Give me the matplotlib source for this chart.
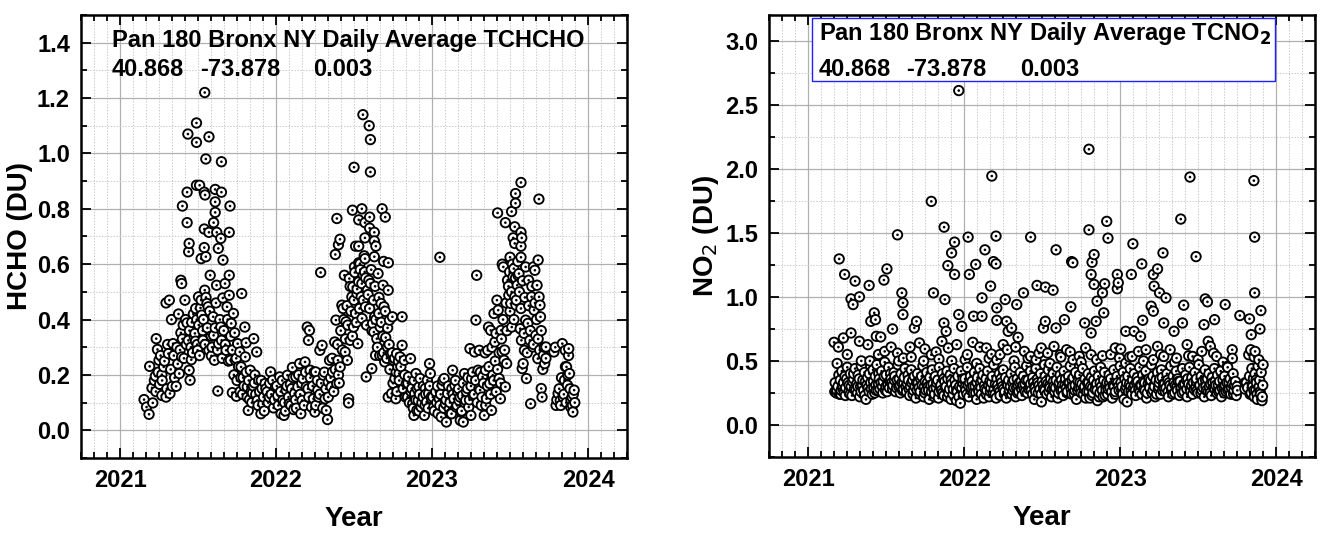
#Pandora 180 Bronx NY daily average columns: HCHO and NO2
import numpy as np
import matplotlib.pyplot as plt
from matplotlib.patches import Rectangle
from matplotlib.ticker import MultipleLocator, FormatStrFormatter

plt.rcParams['font.family'] = ['Liberation Sans', 'DejaVu Sans']

#HCHO (DU), decimal year
hcho_2021_t = [2021.154, 2021.17, 2021.186, 2021.19, 2021.21, 2021.205, 2021.232, 2021.24, 2021.25, 2021.227,
               2021.254, 2021.268, 2021.28, 2021.295, 2021.268, 2021.295, 2021.316, 2021.32, 2021.33, 2021.335,
               2021.31, 2021.34, 2021.36, 2021.375, 2021.39, 2021.395, 2021.38, 2021.39, 2021.395, 2021.416,
               2021.43, 2021.438, 2021.449, 2021.443, 2021.457, 2021.47, 2021.476, 2021.484, 2021.497, 2021.492,
               2021.503, 2021.516, 2021.524, 2021.532, 2021.543, 2021.551, 2021.557, 2021.565, 2021.57, 2021.578,
               2021.586, 2021.6, 2021.597, 2021.605, 2021.627, 2021.619, 2021.632, 2021.646, 2021.651, 2021.659,
               2021.673, 2021.68, 2021.686, 2021.7, 2021.7, 2021.708, 2021.713, 2021.727, 2021.735, 2021.74,
               2021.72, 2021.746, 2021.754, 2021.768, 2021.78, 2021.776, 2021.789, 2021.8, 2021.803, 2021.808,
               2021.816, 2021.822, 2021.83, 2021.835, 2021.849, 2021.857, 2021.862, 2021.876, 2021.88, 2021.889,
               2021.903, 2021.91, 2021.916, 2021.93, 2021.943, 2021.957, 2021.965, 2021.978, 2021.984, 2021.997,
               2021.543, 2021.49, 2021.435, 2021.49, 2021.57, 2021.55, 2021.65, 2021.43, 2021.49, 2021.51,
               2021.54, 2021.545, 2021.61, 2021.65, 2021.61, 2021.40, 2021.705, 2021.61, 2021.43, 2021.60,
               2021.54, 2021.57, 2021.62, 2021.70, 2021.646, 2021.443, 2021.44, 2021.54, 2021.63, 2021.52,
               2021.55, 2021.66,
               2021.22, 2021.23, 2021.245, 2021.26, 2021.27, 2021.285, 2021.30, 2021.305, 2021.325, 2021.345,
               2021.35, 2021.365, 2021.37, 2021.385, 2021.40, 2021.405, 2021.41, 2021.42, 2021.425, 2021.445,
               2021.455, 2021.46, 2021.465, 2021.48, 2021.485, 2021.495, 2021.505, 2021.51, 2021.52, 2021.53,
               2021.535, 2021.545, 2021.56, 2021.575, 2021.585, 2021.59, 2021.61, 2021.615, 2021.625, 2021.64,
               2021.655, 2021.665, 2021.675, 2021.69, 2021.695, 2021.71, 2021.72, 2021.73, 2021.745, 2021.75,
               2021.76, 2021.77, 2021.775, 2021.785, 2021.795, 2021.81, 2021.815, 2021.825, 2021.84, 2021.845,
               2021.855, 2021.865, 2021.87, 2021.885, 2021.895, 2021.905, 2021.92, 2021.925, 2021.935, 2021.95,
               2021.96, 2021.97, 2021.99]
hcho_2021_v = [0.111, 0.084, 0.058, 0.231, 0.099, 0.153, 0.331, 0.292, 0.253, 0.196,
               0.166, 0.126, 0.229, 0.12, 0.201, 0.46, 0.47, 0.133, 0.40, 0.159,
               0.277, 0.313, 0.159, 0.42, 0.352, 0.265, 0.205, 0.542, 0.53, 0.47,
               0.388, 0.325, 0.181, 0.217, 0.255, 0.42, 0.337, 0.322, 0.289, 0.40,
               0.482, 0.442, 0.416, 0.325, 0.506, 0.48, 0.458, 0.446, 0.289, 0.56,
               0.269, 0.343, 0.41, 0.253, 0.142, 0.524, 0.313, 0.373, 0.325, 0.478,
               0.53, 0.289, 0.446, 0.56, 0.488, 0.253, 0.386, 0.422, 0.352, 0.253,
               0.136, 0.123, 0.313, 0.283, 0.494, 0.229, 0.19, 0.373, 0.265, 0.316,
               0.157, 0.072, 0.111, 0.217, 0.135, 0.331, 0.171, 0.283, 0.108, 0.181,
               0.06, 0.151, 0.096, 0.169, 0.139, 0.12, 0.211, 0.181, 0.081, 0.157,
               1.22, 1.11, 1.07, 1.04, 1.06, 0.98, 0.97, 0.86, 0.885, 0.885,
               0.86, 0.85, 0.87, 0.86, 0.825, 0.81, 0.81, 0.787, 0.75, 0.75,
               0.727, 0.715, 0.715, 0.715, 0.693, 0.675, 0.645, 0.66, 0.657, 0.62,
               0.627, 0.615,
               0.18, 0.14, 0.21, 0.27, 0.18, 0.25, 0.15, 0.31, 0.22, 0.27,
               0.19, 0.30, 0.24, 0.29, 0.33, 0.38, 0.26, 0.40, 0.31, 0.36,
               0.30, 0.39, 0.28, 0.35, 0.44, 0.31, 0.38, 0.27, 0.47, 0.36,
               0.40, 0.31, 0.37, 0.43, 0.34, 0.30, 0.37, 0.46, 0.29, 0.40,
               0.26, 0.36, 0.31, 0.40, 0.25, 0.34, 0.29, 0.20, 0.26, 0.18,
               0.23, 0.14, 0.19, 0.13, 0.16, 0.21, 0.12, 0.18, 0.14, 0.10,
               0.16, 0.20, 0.13, 0.09, 0.14, 0.18, 0.12, 0.07, 0.15, 0.10,
               0.17, 0.13, 0.11]

hcho_2022_t = [2022.011, 2022.024, 2022.032, 2022.043, 2022.051, 2022.065, 2022.073, 2022.086, 2022.092, 2022.105,
               2022.113, 2022.119, 2022.127, 2022.14, 2022.151, 2022.159, 2022.167, 2022.173, 2022.186, 2022.194,
               2022.2, 2022.208, 2022.214, 2022.219, 2022.227, 2022.24, 2022.249, 2022.254, 2022.268, 2022.273,
               2022.281, 2022.286, 2022.295, 2022.303, 2022.314, 2022.322, 2022.33, 2022.335, 2022.343, 2022.354,
               2022.362, 2022.376, 2022.389, 2022.397, 2022.405,
               2022.384, 2022.411, 2022.422, 2022.43, 2022.438, 2022.443, 2022.449, 2022.457, 2022.465, 2022.465,
               2022.47, 2022.476, 2022.486, 2022.492, 2022.497, 2022.503, 2022.51, 2022.519, 2022.524, 2022.53,
               2022.538, 2022.546, 2022.551, 2022.559, 2022.568, 2022.573, 2022.578, 2022.586, 2022.595, 2022.605,
               2022.614, 2022.619, 2022.627, 2022.632, 2022.638, 2022.646, 2022.654, 2022.659, 2022.668, 2022.673,
               2022.681, 2022.686, 2022.692, 2022.697, 2022.703, 2022.714, 2022.719, 2022.719, 2022.727, 2022.735,
               2022.741, 2022.746, 2022.754, 2022.762, 2022.768, 2022.773, 2022.781, 2022.789, 2022.795, 2022.808,
               2022.808, 2022.822, 2022.835, 2022.843, 2022.849, 2022.862, 2022.87, 2022.876, 2022.884, 2022.889,
               2022.897, 2022.903, 2022.911, 2022.916, 2022.924, 2022.93, 2022.943, 2022.951, 2022.957, 2022.965,
               2022.97, 2022.978, 2022.984, 2022.989, 2022.997,
               2022.557, 2022.597, 2022.605, 2022.50, 2022.605, 2022.39, 2022.49, 2022.55, 2022.68, 2022.70,
               2022.60, 2022.53, 2022.57, 2022.60, 2022.63, 2022.41, 2022.57, 2022.63, 2022.51, 2022.53,
               2022.64, 2022.38, 2022.40, 2022.57, 2022.63, 2022.69, 2022.72, 2022.53,
               2022.005, 2022.015, 2022.03, 2022.04, 2022.055, 2022.06, 2022.07, 2022.08, 2022.095, 2022.10,
               2022.11, 2022.125, 2022.13, 2022.145, 2022.155, 2022.165, 2022.18, 2022.19, 2022.205, 2022.21,
               2022.22, 2022.235, 2022.245, 2022.255, 2022.265, 2022.28, 2022.29, 2022.30, 2022.31, 2022.32,
               2022.335, 2022.35, 2022.36, 2022.37, 2022.38, 2022.395, 2022.40, 2022.415, 2022.425, 2022.435,
               2022.445, 2022.455, 2022.46, 2022.475, 2022.48, 2022.49, 2022.50, 2022.505, 2022.515, 2022.52,
               2022.535, 2022.54, 2022.55, 2022.56, 2022.565, 2022.575, 2022.58, 2022.59, 2022.60, 2022.61,
               2022.615, 2022.625, 2022.635, 2022.64, 2022.65, 2022.66, 2022.665, 2022.675, 2022.685, 2022.69,
               2022.70, 2022.71, 2022.715, 2022.725, 2022.73, 2022.745, 2022.75, 2022.76, 2022.77, 2022.775,
               2022.785, 2022.79, 2022.80, 2022.815, 2022.825, 2022.83, 2022.845, 2022.855, 2022.865, 2022.88,
               2022.885, 2022.895, 2022.905, 2022.915, 2022.92, 2022.935, 2022.945, 2022.955, 2022.96, 2022.975,
               2022.985, 2022.995]
hcho_2022_v = [0.126, 0.193, 0.06, 0.108, 0.054, 0.145, 0.199, 0.096, 0.166, 0.227,
               0.075, 0.133, 0.193, 0.157, 0.241, 0.06, 0.108, 0.187, 0.247, 0.157,
               0.373, 0.325, 0.361, 0.217, 0.084, 0.114, 0.066, 0.211, 0.145, 0.12,
               0.289, 0.57, 0.307, 0.199, 0.114, 0.072, 0.039, 0.175, 0.253, 0.157,
               0.211, 0.319, 0.169, 0.253, 0.171,
               0.398, 0.229, 0.452, 0.44, 0.56, 0.283, 0.392, 0.253, 0.114, 0.099,
               0.548, 0.325, 0.482, 0.518, 0.373, 0.59, 0.422, 0.494, 0.313, 0.536,
               0.602, 0.482, 0.404, 0.56, 0.572, 0.446, 0.193, 0.506, 0.542, 0.53,
               0.223, 0.386, 0.355, 0.41, 0.271, 0.331, 0.566, 0.422, 0.373, 0.458,
               0.271, 0.524, 0.446, 0.247, 0.335, 0.301, 0.506, 0.12, 0.398, 0.277,
               0.133, 0.41, 0.253, 0.187, 0.114, 0.277, 0.229, 0.205, 0.265, 0.41,
               0.307, 0.253, 0.169, 0.12, 0.193, 0.259, 0.151, 0.096, 0.054, 0.133,
               0.205, 0.072, 0.108, 0.157, 0.187, 0.084, 0.12, 0.054, 0.151, 0.102,
               0.181, 0.133, 0.241, 0.205, 0.114,
               1.14, 1.10, 1.05, 0.95, 0.933, 0.765, 0.795, 0.80, 0.80, 0.77,
               0.77, 0.76, 0.75, 0.73, 0.715, 0.69, 0.695, 0.684, 0.665, 0.665,
               0.665, 0.635, 0.67, 0.62, 0.627, 0.61, 0.605, 0.605,
               0.16, 0.09, 0.14, 0.18, 0.10, 0.07, 0.16, 0.12, 0.09, 0.15,
               0.19, 0.11, 0.08, 0.20, 0.13, 0.17, 0.09, 0.21, 0.15, 0.12,
               0.19, 0.16, 0.21, 0.09, 0.18, 0.13, 0.17, 0.08, 0.21, 0.15,
               0.12, 0.19, 0.26, 0.14, 0.22, 0.31, 0.20, 0.36, 0.29, 0.40,
               0.33, 0.45, 0.38, 0.52, 0.43, 0.34, 0.47, 0.57, 0.39, 0.51,
               0.44, 0.58, 0.53, 0.47, 0.63, 0.55, 0.38, 0.49, 0.44, 0.58,
               0.36, 0.47, 0.52, 0.40, 0.30, 0.48, 0.27, 0.39, 0.34, 0.28,
               0.43, 0.26, 0.37, 0.31, 0.22, 0.28, 0.17, 0.26, 0.21, 0.14,
               0.25, 0.18, 0.23, 0.15, 0.20, 0.12, 0.17, 0.10, 0.14, 0.08,
               0.18, 0.11, 0.15, 0.07, 0.13, 0.10, 0.16, 0.09, 0.13, 0.08,
               0.16, 0.12]

hcho_2023_t = [2023.011, 2023.024, 2023.038, 2023.046, 2023.059, 2023.065, 2023.078, 2023.086, 2023.092, 2023.1,
               2023.111, 2023.119, 2023.127, 2023.132, 2023.14, 2023.146, 2023.154, 2023.165, 2023.173, 2023.181,
               2023.186, 2023.195, 2023.2, 2023.208, 2023.216, 2023.227, 2023.235, 2023.243, 2023.249, 2023.254,
               2023.262, 2023.273, 2023.281, 2023.286, 2023.295, 2023.303, 2023.308, 2023.316, 2023.324, 2023.335,
               2023.343, 2023.349, 2023.357, 2023.362, 2023.37, 2023.376, 2023.381, 2023.389, 2023.397, 2023.403,
               2023.411, 2023.416, 2023.424, 2023.43, 2023.438, 2023.443, 2023.449, 2023.457, 2023.462, 2023.47,
               2023.478, 2023.484, 2023.492, 2023.497, 2023.505, 2023.511, 2023.519, 2023.524, 2023.53, 2023.538,
               2023.546, 2023.551, 2023.557, 2023.565, 2023.573, 2023.578, 2023.584, 2023.592, 2023.6, 2023.605,
               2023.614, 2023.619, 2023.627, 2023.632, 2023.638, 2023.646, 2023.654, 2023.659, 2023.665, 2023.673,
               2023.678, 2023.686, 2023.692, 2023.695, 2023.7, 2023.705, 2023.714, 2023.722, 2023.73, 2023.781,
               2023.795, 2023.808, 2023.822, 2023.835, 2023.84, 2023.849, 2023.854, 2023.862, 2023.868, 2023.876,
               2023.881, 2023.889, 2023.897, 2023.903, 2023.911,
               2023.05, 2023.57, 2023.535, 2023.535, 2023.685, 2023.42, 2023.51, 2023.47, 2023.53, 2023.57,
               2023.52, 2023.575, 2023.53, 2023.57, 2023.50, 2023.57, 2023.68, 2023.45, 2023.60, 2023.65,
               2023.005, 2023.015, 2023.03, 2023.035, 2023.05, 2023.055, 2023.07, 2023.075, 2023.09, 2023.105,
               2023.115, 2023.125, 2023.135, 2023.15, 2023.16, 2023.17, 2023.18, 2023.19, 2023.20, 2023.21,
               2023.22, 2023.23, 2023.24, 2023.25, 2023.26, 2023.27, 2023.28, 2023.29, 2023.30, 2023.31,
               2023.32, 2023.33, 2023.34, 2023.345, 2023.355, 2023.365, 2023.375, 2023.385, 2023.395, 2023.405,
               2023.41, 2023.42, 2023.43, 2023.44, 2023.445, 2023.455, 2023.465, 2023.475, 2023.48, 2023.49,
               2023.50, 2023.51, 2023.515, 2023.525, 2023.535, 2023.54, 2023.55, 2023.56, 2023.57, 2023.58,
               2023.59, 2023.595, 2023.61, 2023.62, 2023.63, 2023.64, 2023.65, 2023.66, 2023.67, 2023.68,
               2023.69, 2023.70, 2023.71, 2023.72, 2023.73, 2023.79, 2023.80, 2023.815, 2023.825, 2023.83,
               2023.845, 2023.855, 2023.86, 2023.87, 2023.875, 2023.885, 2023.89, 2023.90, 2023.905, 2023.915]
hcho_2023_v = [0.084, 0.139, 0.06, 0.114, 0.048, 0.163, 0.187, 0.096, 0.03, 0.133,
               0.078, 0.06, 0.151, 0.217, 0.114, 0.163, 0.084, 0.139, 0.108, 0.036,
               0.066, 0.126, 0.03, 0.205, 0.108, 0.151, 0.084, 0.295, 0.054, 0.187,
               0.126, 0.283, 0.398, 0.56, 0.217, 0.289, 0.145, 0.09, 0.193, 0.054,
               0.217, 0.114, 0.289, 0.373, 0.169, 0.361, 0.072, 0.199, 0.422, 0.319,
               0.139, 0.47, 0.434, 0.187, 0.114, 0.361, 0.283, 0.59, 0.253, 0.157,
               0.241, 0.542, 0.488, 0.572, 0.458, 0.373, 0.554, 0.584, 0.482, 0.452,
               0.524, 0.56, 0.566, 0.367, 0.325, 0.223, 0.241, 0.289, 0.398, 0.187,
               0.386, 0.542, 0.325, 0.096, 0.482, 0.301, 0.434, 0.578, 0.343, 0.524,
               0.259, 0.482, 0.452, 0.41, 0.151, 0.12, 0.271, 0.241, 0.301, 0.283,
               0.09, 0.133, 0.108, 0.313, 0.12, 0.181, 0.289, 0.229, 0.163, 0.295,
               0.205, 0.084, 0.12, 0.066, 0.145,
               0.625, 0.895, 0.855, 0.82, 0.835, 0.785, 0.79, 0.75, 0.735, 0.715,
               0.695, 0.695, 0.675, 0.665, 0.625, 0.625, 0.615, 0.60, 0.59, 0.59,
               0.12, 0.07, 0.10, 0.16, 0.09, 0.13, 0.18, 0.08, 0.11, 0.16,
               0.10, 0.06, 0.13, 0.18, 0.09, 0.15, 0.12, 0.07, 0.17, 0.10,
               0.14, 0.19, 0.11, 0.16, 0.21, 0.13, 0.18, 0.10, 0.15, 0.21,
               0.12, 0.17, 0.28, 0.09, 0.16, 0.23, 0.13, 0.30, 0.18, 0.25,
               0.35, 0.22, 0.28, 0.17, 0.33, 0.40, 0.29, 0.46, 0.36, 0.52,
               0.43, 0.50, 0.60, 0.40, 0.55, 0.47, 0.61, 0.50, 0.44, 0.54,
               0.35, 0.48, 0.28, 0.45, 0.36, 0.52, 0.31, 0.46, 0.40, 0.33,
               0.29, 0.36, 0.22, 0.30, 0.26, 0.30, 0.11, 0.15, 0.09, 0.19,
               0.13, 0.23, 0.10, 0.20, 0.27, 0.15, 0.11, 0.09, 0.13, 0.10]

#NO2 (DU), decimal year
no2_high_t = [2021.965, 2022.80, 2022.177, 2023.448, 2023.858, 2021.789, 2023.389, 2022.914, 2021.871, 2022.80,
              2021.572, 2022.204, 2022.025, 2022.426, 2022.922, 2023.863, 2021.938, 2023.082, 2022.589, 2022.133,
              2021.919, 2023.275, 2022.833, 2023.487, 2021.198, 2022.689, 2022.188, 2022.204, 2021.895, 2022.82,
              2023.139, 2021.504, 2023.24,
              2021.233, 2021.30, 2021.485, 2021.39, 2021.274, 2021.287, 2021.328, 2021.60, 2021.607, 2021.607,
              2021.938, 2021.803, 2021.876, 2022.033, 2022.074, 2022.169, 2022.114, 2022.209, 2022.263, 2022.337,
              2022.38, 2022.467, 2022.521, 2022.57, 2022.684, 2022.697, 2022.814, 2022.833, 2022.901, 2022.852,
              2022.887, 2022.895, 2022.982, 2022.988, 2022.982, 2023.072, 2023.213, 2023.218, 2023.253, 2023.294,
              2023.199, 2023.213, 2023.408, 2023.546, 2023.56, 2023.674, 2023.768, 2023.83, 2023.863, 2023.903,
              2023.897]
no2_high_v = [2.61, 2.152, 1.943, 1.935, 1.907, 1.745, 1.607, 1.589, 1.544, 1.523,
              1.484, 1.474, 1.466, 1.466, 1.458, 1.466, 1.427, 1.414, 1.367, 1.367,
              1.343, 1.343, 1.33, 1.314, 1.296, 1.275, 1.275, 1.257, 1.244, 1.27,
              1.257, 1.218, 1.218,
              1.175, 1.123, 1.131, 1.089, 0.984, 0.94, 1.0, 1.031, 0.953, 0.862,
              1.175, 1.031, 0.979, 1.175, 1.253, 1.084, 0.992, 0.914, 0.979, 0.94,
              1.031, 1.089, 1.076, 1.052, 0.922, 1.266, 1.175, 1.097, 1.102, 0.966,
              1.031, 0.875, 1.175, 1.11, 1.063, 1.175, 1.175, 1.084, 1.031, 0.992,
              0.927, 0.888, 0.935, 0.984, 0.961, 0.94, 0.854, 0.828, 1.031, 0.893,
              0.749]

no2_mid_t = [2021.423, 2021.431, 2021.401, 2021.54, 2021.694, 2021.68, 2021.87, 2021.884, 2021.965, 2021.984,
             2022.06, 2022.114, 2022.209, 2022.272, 2022.282, 2022.304, 2022.345, 2022.52, 2022.508, 2022.589,
             2022.643, 2022.773, 2022.814, 2022.846, 2023.145, 2023.036, 2023.09, 2023.131, 2023.28, 2023.346,
             2023.40, 2023.538, 2023.606, 2023.841, 2023.719,
             2021.165, 2021.193, 2021.225, 2021.274, 2021.328, 2021.382, 2021.436, 2021.464, 2021.49, 2021.531,
             2021.572, 2021.61, 2021.653, 2021.713, 2021.748, 2021.789, 2021.838, 2021.857, 2021.898, 2021.952,
             2022.006, 2022.055, 2022.10, 2022.142, 2022.175, 2022.209, 2022.25, 2022.277, 2022.33, 2022.386,
             2022.426, 2022.461, 2022.494, 2022.535, 2022.576, 2022.616, 2022.657, 2022.698, 2022.738, 2022.779,
             2022.814, 2022.887, 2022.969, 2023.004, 2022.996, 2023.036, 2023.077, 2023.118, 2023.166, 2023.213,
             2023.24, 2023.28, 2023.321, 2023.362, 2023.43, 2023.465, 2023.524, 2023.565, 2023.579, 2023.619,
             2023.687, 2023.825, 2023.838, 2023.866, 2023.89, 2023.917,
             2021.25, 2021.34, 2021.45, 2021.58, 2021.66, 2021.74, 2021.82, 2021.92, 2022.02, 2022.08,
             2022.16, 2022.23, 2022.32, 2022.41, 2022.48, 2022.55, 2022.62, 2022.68, 2022.75, 2022.85,
             2022.94, 2023.06, 2023.15, 2023.26, 2023.35, 2023.44, 2023.50, 2023.60, 2023.66, 2023.72,
             2023.86]
no2_mid_v = [0.875, 0.822, 0.809, 0.749, 0.809, 0.757, 0.796, 0.731, 0.862, 0.77,
             0.849, 0.849, 0.817, 0.809, 0.731, 0.757, 0.684, 0.809, 0.757, 0.757,
             0.822, 0.796, 0.718, 0.809, 0.817, 0.731, 0.731, 0.692, 0.796, 0.731,
             0.796, 0.783, 0.822, 0.705, 0.587,
             0.645, 0.608, 0.679, 0.718, 0.653, 0.627, 0.692, 0.687, 0.574, 0.608,
             0.561, 0.522, 0.608, 0.64, 0.593, 0.548, 0.514, 0.653, 0.601, 0.627,
             0.509, 0.645, 0.608, 0.601, 0.553, 0.509, 0.627, 0.587, 0.608, 0.574,
             0.535, 0.509, 0.601, 0.561, 0.613, 0.548, 0.587, 0.509, 0.535, 0.601,
             0.548, 0.54, 0.601, 0.593, 0.522, 0.483, 0.535, 0.574, 0.587, 0.509,
             0.613, 0.535, 0.587, 0.522, 0.627, 0.535, 0.574, 0.653, 0.613, 0.535,
             0.457, 0.548, 0.587, 0.574, 0.509, 0.47,
             0.55, 0.50, 0.55, 0.50, 0.53, 0.50, 0.57, 0.50, 0.55, 0.48,
             0.52, 0.55, 0.50, 0.52, 0.56, 0.48, 0.53, 0.57, 0.49, 0.51,
             0.55, 0.53, 0.50, 0.55, 0.49, 0.54, 0.51, 0.56, 0.49, 0.52,
             0.53]

no2_2021_t = [2021.17, 2021.18, 2021.185, 2021.19, 2021.20, 2021.205, 2021.21, 2021.215, 2021.22, 2021.23,
              2021.235, 2021.24, 2021.25, 2021.255, 2021.26, 2021.27, 2021.275, 2021.28, 2021.29, 2021.295,
              2021.30, 2021.31, 2021.315, 2021.32, 2021.33, 2021.335, 2021.34, 2021.35, 2021.355, 2021.36,
              2021.37, 2021.375, 2021.38, 2021.39, 2021.395, 2021.40, 2021.41, 2021.415, 2021.42, 2021.43,
              2021.435, 2021.44, 2021.45, 2021.455, 2021.46, 2021.47, 2021.475, 2021.48, 2021.49, 2021.495,
              2021.50, 2021.51, 2021.515, 2021.52, 2021.53, 2021.535, 2021.54, 2021.55, 2021.555, 2021.56,
              2021.57, 2021.575, 2021.58, 2021.59, 2021.595, 2021.60, 2021.61, 2021.615, 2021.62, 2021.63,
              2021.635, 2021.64, 2021.65, 2021.655, 2021.66, 2021.67, 2021.675, 2021.68, 2021.69, 2021.695,
              2021.70, 2021.71, 2021.715, 2021.72, 2021.73, 2021.735, 2021.74, 2021.75, 2021.755, 2021.76,
              2021.77, 2021.775, 2021.78, 2021.79, 2021.795, 2021.80, 2021.81, 2021.815, 2021.82, 2021.83,
              2021.835, 2021.84, 2021.85, 2021.855, 2021.86, 2021.87, 2021.875, 2021.88, 2021.89, 2021.895,
              2021.90, 2021.91, 2021.915, 2021.92, 2021.93, 2021.935, 2021.94, 2021.95, 2021.955, 2021.96,
              2021.97, 2021.975, 2021.98, 2021.99, 2021.995,
              2021.172, 2021.183, 2021.196, 2021.208, 2021.219, 2021.226, 2021.238, 2021.246, 2021.262, 2021.268,
              2021.283, 2021.291, 2021.304, 2021.318, 2021.327, 2021.338, 2021.347, 2021.362, 2021.366, 2021.384,
              2021.392, 2021.404, 2021.418, 2021.426, 2021.433, 2021.447, 2021.452, 2021.466, 2021.478, 2021.487,
              2021.498, 2021.506, 2021.524, 2021.528, 2021.543, 2021.552, 2021.566, 2021.583, 2021.589, 2021.604,
              2021.612, 2021.626, 2021.642, 2021.647, 2021.663, 2021.672, 2021.684, 2021.698, 2021.704, 2021.718,
              2021.727, 2021.744, 2021.748, 2021.764, 2021.772, 2021.786, 2021.804, 2021.808, 2021.823, 2021.838,
              2021.846, 2021.862, 2021.868, 2021.884, 2021.893, 2021.906, 2021.917, 2021.928, 2021.946, 2021.952,
              2021.966, 2021.984, 2021.992]
no2_2021_v = [0.26, 0.25, 0.48, 0.30, 0.24, 0.35, 0.27, 0.42, 0.31, 0.25,
              0.38, 0.29, 0.45, 0.33, 0.26, 0.40, 0.30, 0.23, 0.36, 0.28,
              0.44, 0.32, 0.25, 0.39, 0.22, 0.30, 0.46, 0.35, 0.27, 0.41,
              0.20, 0.31, 0.37, 0.26, 0.50, 0.33, 0.24, 0.43, 0.29, 0.38,
              0.27, 0.47, 0.32, 0.36, 0.28, 0.42, 0.30, 0.34, 0.49, 0.27,
              0.39, 0.31, 0.45, 0.29, 0.36, 0.33, 0.28, 0.41, 0.38, 0.26,
              0.35, 0.47, 0.30, 0.25, 0.40, 0.33, 0.28, 0.37, 0.44, 0.26,
              0.32, 0.39, 0.23, 0.30, 0.43, 0.35, 0.27, 0.38, 0.21, 0.33,
              0.40, 0.29, 0.24, 0.36, 0.31, 0.46, 0.22, 0.34, 0.27, 0.41,
              0.30, 0.20, 0.37, 0.26, 0.43, 0.32, 0.24, 0.38, 0.29, 0.35,
              0.21, 0.45, 0.31, 0.27, 0.40, 0.23, 0.34, 0.29, 0.42, 0.36,
              0.25, 0.39, 0.20, 0.32, 0.28, 0.44, 0.35, 0.19, 0.26, 0.38,
              0.30, 0.17, 0.42, 0.33, 0.24,
              0.33, 0.27, 0.39, 0.24, 0.29, 0.33, 0.23, 0.36, 0.31, 0.24,
              0.34, 0.40, 0.27, 0.30, 0.36, 0.26, 0.31, 0.23, 0.34, 0.29,
              0.40, 0.28, 0.34, 0.25, 0.31, 0.27, 0.40, 0.33, 0.25, 0.38,
              0.30, 0.26, 0.34, 0.40, 0.31, 0.35, 0.29, 0.36, 0.31, 0.27,
              0.33, 0.30, 0.35, 0.28, 0.33, 0.24, 0.30, 0.27, 0.33, 0.26,
              0.38, 0.30, 0.25, 0.33, 0.27, 0.31, 0.28, 0.22, 0.33, 0.26,
              0.30, 0.25, 0.36, 0.30, 0.22, 0.28, 0.35, 0.24, 0.31, 0.27,
              0.22, 0.29, 0.36]

no2_2022_t = [2022.005, 2022.01, 2022.02, 2022.025, 2022.03, 2022.04, 2022.045, 2022.05, 2022.06, 2022.065,
              2022.07, 2022.08, 2022.085, 2022.09, 2022.10, 2022.105, 2022.11, 2022.12, 2022.125, 2022.13,
              2022.14, 2022.145, 2022.15, 2022.16, 2022.165, 2022.17, 2022.18, 2022.185, 2022.19, 2022.20,
              2022.205, 2022.21, 2022.22, 2022.225, 2022.23, 2022.24, 2022.245, 2022.25, 2022.26, 2022.265,
              2022.27, 2022.28, 2022.285, 2022.29, 2022.30, 2022.305, 2022.31, 2022.32, 2022.325, 2022.33,
              2022.34, 2022.345, 2022.35, 2022.36, 2022.365, 2022.37, 2022.38, 2022.385, 2022.39, 2022.40,
              2022.405, 2022.41, 2022.42, 2022.425, 2022.43, 2022.44, 2022.445, 2022.45, 2022.455, 2022.46,
              2022.47, 2022.475, 2022.48, 2022.49, 2022.495, 2022.50, 2022.51, 2022.515, 2022.52, 2022.53,
              2022.535, 2022.54, 2022.55, 2022.555, 2022.56, 2022.57, 2022.575, 2022.58, 2022.59, 2022.595,
              2022.60, 2022.61, 2022.615, 2022.62, 2022.63, 2022.635, 2022.64, 2022.65, 2022.655, 2022.66,
              2022.67, 2022.675, 2022.68, 2022.69, 2022.695, 2022.70, 2022.71, 2022.715, 2022.72, 2022.73,
              2022.735, 2022.74, 2022.75, 2022.755, 2022.76, 2022.77, 2022.775, 2022.78, 2022.79, 2022.795,
              2022.80, 2022.81, 2022.815, 2022.82, 2022.83, 2022.835, 2022.84, 2022.85, 2022.855, 2022.86,
              2022.87, 2022.875, 2022.88, 2022.89, 2022.895, 2022.90, 2022.91, 2022.915, 2022.92, 2022.93,
              2022.935, 2022.94, 2022.95, 2022.955, 2022.96, 2022.97, 2022.975, 2022.98, 2022.99,
              2022.008, 2022.018, 2022.034, 2022.043, 2022.056, 2022.074, 2022.082, 2022.094, 2022.108, 2022.116,
              2022.134, 2022.142, 2022.156, 2022.168, 2022.176, 2022.192, 2022.198, 2022.214, 2022.228, 2022.236,
              2022.252, 2022.258, 2022.274, 2022.288, 2022.296, 2022.312, 2022.318, 2022.336, 2022.342, 2022.354,
              2022.368, 2022.376, 2022.392, 2022.398, 2022.414, 2022.426, 2022.438, 2022.452, 2022.458, 2022.472,
              2022.486, 2022.494, 2022.506, 2022.518, 2022.526, 2022.544, 2022.548, 2022.566, 2022.572, 2022.586,
              2022.604, 2022.608, 2022.624, 2022.632, 2022.646, 2022.662, 2022.668, 2022.684, 2022.692, 2022.706,
              2022.712, 2022.728, 2022.742, 2022.748, 2022.764, 2022.772, 2022.786, 2022.798, 2022.806, 2022.822,
              2022.826, 2022.844, 2022.852, 2022.866, 2022.872, 2022.886, 2022.904, 2022.908, 2022.924, 2022.932,
              2022.946, 2022.962, 2022.968, 2022.984, 2022.994]
no2_2022_v = [0.36, 0.27, 0.45, 0.31, 0.22, 0.38, 0.29, 0.34, 0.25, 0.41,
              0.30, 0.20, 0.37, 0.28, 0.44, 0.33, 0.24, 0.39, 0.21, 0.31,
              0.36, 0.27, 0.42, 0.22, 0.34, 0.29, 0.38, 0.25, 0.47, 0.32,
              0.21, 0.36, 0.28, 0.40, 0.23, 0.33, 0.30, 0.43, 0.26, 0.37,
              0.21, 0.31, 0.35, 0.27, 0.40, 0.24, 0.33, 0.29, 0.45, 0.22,
              0.36, 0.31, 0.26, 0.41, 0.34, 0.23, 0.38, 0.28, 0.32, 0.46,
              0.25, 0.35, 0.30, 0.42, 0.27, 0.37, 0.33, 0.20, 0.29, 0.44,
              0.36, 0.25, 0.31, 0.40, 0.18, 0.34, 0.28, 0.47, 0.38, 0.24,
              0.32, 0.43, 0.29, 0.36, 0.22, 0.40, 0.30, 0.26, 0.35, 0.45,
              0.21, 0.33, 0.39, 0.27, 0.31, 0.23, 0.42, 0.36, 0.29, 0.25,
              0.38, 0.33, 0.46, 0.24, 0.30, 0.37, 0.27, 0.41, 0.20, 0.34,
              0.29, 0.39, 0.25, 0.32, 0.44, 0.28, 0.36, 0.21, 0.33, 0.40,
              0.26, 0.30, 0.37, 0.23, 0.35, 0.42, 0.28, 0.32, 0.19, 0.38,
              0.25, 0.45, 0.30, 0.22, 0.35, 0.41, 0.27, 0.33, 0.24, 0.39,
              0.29, 0.36, 0.21, 0.31, 0.43, 0.26, 0.34, 0.38, 0.30,
              0.30, 0.24, 0.33, 0.27, 0.30, 0.25, 0.33, 0.26, 0.29, 0.35,
              0.28, 0.24, 0.31, 0.26, 0.33, 0.28, 0.24, 0.31, 0.26, 0.36,
              0.28, 0.24, 0.32, 0.25, 0.30, 0.27, 0.35, 0.29, 0.25, 0.33,
              0.28, 0.31, 0.26, 0.35, 0.28, 0.32, 0.24, 0.30, 0.26, 0.33,
              0.28, 0.24, 0.31, 0.27, 0.34, 0.26, 0.31, 0.28, 0.34, 0.29,
              0.25, 0.31, 0.35, 0.27, 0.31, 0.26, 0.33, 0.29, 0.35, 0.24,
              0.31, 0.27, 0.33, 0.29, 0.24, 0.30, 0.26, 0.33, 0.21, 0.29,
              0.25, 0.31, 0.27, 0.22, 0.33, 0.27, 0.23, 0.30, 0.28, 0.33,
              0.26, 0.30, 0.24, 0.33, 0.27]

no2_2023_t = [2023.00, 2023.005, 2023.01, 2023.02, 2023.025, 2023.03, 2023.04, 2023.045, 2023.05, 2023.06,
              2023.065, 2023.07, 2023.08, 2023.085, 2023.09, 2023.10, 2023.105, 2023.11, 2023.12, 2023.125,
              2023.13, 2023.14, 2023.145, 2023.15, 2023.16, 2023.165, 2023.17, 2023.18, 2023.185, 2023.19,
              2023.20, 2023.205, 2023.21, 2023.22, 2023.225, 2023.23, 2023.24, 2023.245, 2023.25, 2023.26,
              2023.265, 2023.27, 2023.28, 2023.285, 2023.29, 2023.30, 2023.305, 2023.31, 2023.32, 2023.325,
              2023.33, 2023.34, 2023.345, 2023.35, 2023.36, 2023.365, 2023.37, 2023.38, 2023.385, 2023.39,
              2023.40, 2023.405, 2023.41, 2023.42, 2023.425, 2023.43, 2023.44, 2023.445, 2023.45, 2023.46,
              2023.465, 2023.47, 2023.48, 2023.485, 2023.49, 2023.50, 2023.505, 2023.51, 2023.52, 2023.525,
              2023.53, 2023.54, 2023.545, 2023.55, 2023.56, 2023.565, 2023.57, 2023.58, 2023.585, 2023.59,
              2023.60, 2023.605, 2023.61, 2023.62, 2023.625, 2023.63, 2023.64, 2023.645, 2023.65, 2023.66,
              2023.665, 2023.67, 2023.68, 2023.685, 2023.69, 2023.70, 2023.705, 2023.71, 2023.72, 2023.725,
              2023.73, 2023.74, 2023.745, 2023.75, 2023.80, 2023.81, 2023.83, 2023.84, 2023.845, 2023.85,
              2023.855, 2023.86, 2023.865, 2023.87, 2023.875, 2023.88, 2023.885, 2023.89, 2023.895, 2023.90,
              2023.905, 2023.91, 2023.915,
              2023.012, 2023.016, 2023.034, 2023.042, 2023.054, 2023.068, 2023.076, 2023.092, 2023.098, 2023.114,
              2023.128, 2023.136, 2023.152, 2023.158, 2023.174, 2023.188, 2023.196, 2023.212, 2023.218, 2023.234,
              2023.248, 2023.254, 2023.272, 2023.278, 2023.294, 2023.308, 2023.314, 2023.332, 2023.338, 2023.354,
              2023.368, 2023.374, 2023.392, 2023.398, 2023.414, 2023.428, 2023.434, 2023.452, 2023.458, 2023.474,
              2023.488, 2023.494, 2023.512, 2023.518, 2023.534, 2023.548, 2023.554, 2023.572, 2023.578, 2023.594,
              2023.608, 2023.614, 2023.632, 2023.638, 2023.654, 2023.668, 2023.674, 2023.692, 2023.698, 2023.714,
              2023.728, 2023.734, 2023.752, 2023.802, 2023.818, 2023.834, 2023.848, 2023.858, 2023.872, 2023.878,
              2023.892, 2023.898, 2023.912]
no2_2023_v = [0.46, 0.33, 0.27, 0.41, 0.20, 0.36, 0.30, 0.18, 0.38, 0.32,
              0.44, 0.26, 0.35, 0.29, 0.40, 0.23, 0.33, 0.37, 0.28, 0.45,
              0.31, 0.24, 0.39, 0.34, 0.27, 0.42, 0.21, 0.32, 0.36, 0.29,
              0.47, 0.25, 0.38, 0.30, 0.22, 0.35, 0.41, 0.28, 0.33, 0.24,
              0.43, 0.37, 0.29, 0.32, 0.26, 0.40, 0.35, 0.22, 0.31, 0.46,
              0.27, 0.38, 0.33, 0.25, 0.42, 0.30, 0.36, 0.23, 0.34, 0.28,
              0.44, 0.31, 0.26, 0.39, 0.35, 0.22, 0.32, 0.45, 0.28, 0.37,
              0.24, 0.33, 0.41, 0.29, 0.36, 0.25, 0.47, 0.31, 0.38, 0.27,
              0.34, 0.22, 0.43, 0.30, 0.36, 0.26, 0.40, 0.32, 0.23, 0.37,
              0.29, 0.44, 0.34, 0.25, 0.39, 0.31, 0.27, 0.42, 0.22, 0.35,
              0.30, 0.38, 0.26, 0.33, 0.45, 0.28, 0.36, 0.24, 0.32, 0.40,
              0.27, 0.34, 0.23, 0.30, 0.28, 0.33, 0.38, 0.25, 0.44, 0.30,
              0.36, 0.22, 0.40, 0.27, 0.33, 0.20, 0.46, 0.29, 0.35, 0.24,
              0.41, 0.19, 0.31,
              0.30, 0.24, 0.28, 0.33, 0.26, 0.30, 0.24, 0.31, 0.27, 0.34,
              0.26, 0.31, 0.28, 0.33, 0.25, 0.30, 0.35, 0.27, 0.31, 0.24,
              0.30, 0.36, 0.27, 0.32, 0.29, 0.26, 0.33, 0.29, 0.24, 0.31,
              0.27, 0.34, 0.29, 0.25, 0.32, 0.28, 0.36, 0.26, 0.31, 0.28,
              0.34, 0.27, 0.31, 0.25, 0.29, 0.35, 0.27, 0.30, 0.25, 0.33,
              0.28, 0.31, 0.26, 0.34, 0.29, 0.25, 0.31, 0.27, 0.33, 0.29,
              0.24, 0.31, 0.27, 0.33, 0.29, 0.24, 0.31, 0.27, 0.35, 0.24,
              0.30, 0.26, 0.22]

hcho_t = hcho_2021_t + hcho_2022_t + hcho_2023_t
hcho_v = hcho_2021_v + hcho_2022_v + hcho_2023_v
no2_t = no2_2021_t + no2_2022_t + no2_2023_t + no2_mid_t + no2_high_t
no2_v = no2_2021_v + no2_2022_v + no2_2023_v + no2_mid_v + no2_high_v


def dotted_circles(ax, t, v):
    #each point is a white circle then a black dot, interleaved so later circles cover earlier dots
    t = np.asarray(t, float)
    v = np.asarray(v, float)
    order = np.argsort(t, kind='stable')
    t = np.repeat(t[order], 2)
    v = np.repeat(v[order], 2)
    n = len(t) // 2
    sizes = np.tile([46, 3.5], n)
    faces = np.tile([[1, 1, 1, 1], [0, 0, 0, 1]], (n, 1))
    widths = np.tile([1.35, 0.0], n)
    ax.scatter(t, v, s=sizes, c=faces, edgecolors='black', linewidths=widths, zorder=3)


def style_axes(ax, ymin, ymax, ymajor, yminor):
    ax.set_xlim(2020.75, 2024.25)
    ax.set_ylim(ymin, ymax)
    ax.xaxis.set_major_locator(MultipleLocator(1))
    ax.xaxis.set_minor_locator(MultipleLocator(1 / 12))
    ax.yaxis.set_major_locator(MultipleLocator(ymajor))
    ax.yaxis.set_minor_locator(MultipleLocator(yminor))
    ax.xaxis.set_major_formatter(FormatStrFormatter('%d'))
    ax.yaxis.set_major_formatter(FormatStrFormatter('%.1f'))
    ax.grid(which='major', color='#b0b0b0', linewidth=0.9, linestyle='-', zorder=0)
    ax.grid(which='minor', color='#cccccc', linewidth=0.7, linestyle=(0, (1.5, 1.5)), zorder=0)
    ax.set_axisbelow(True)
    ax.tick_params(which='both', direction='in', top=True, right=True, width=1.3)
    ax.tick_params(which='major', length=7, labelsize=17, pad=8)
    ax.tick_params(which='minor', length=4)
    for lab in ax.get_xticklabels() + ax.get_yticklabels():
        lab.set_fontweight('bold')
    for sp in ax.spines.values():
        sp.set_linewidth(1.8)
    ax.set_xlabel('Year', fontsize=20, fontweight='bold', labelpad=10)


fig = plt.figure(figsize=(13.26, 5.35), dpi=100)
ax1 = fig.add_axes([0.0611, 0.1439, 0.4118, 0.8281])
ax2 = fig.add_axes([0.5802, 0.1458, 0.4115, 0.8262])

dotted_circles(ax1, hcho_t, hcho_v)
style_axes(ax1, -0.1, 1.5, 0.2, 0.1)
ax1.set_ylabel('HCHO (DU)', fontsize=20, fontweight='bold', labelpad=3)
ax1.text(0.056, 0.942, 'Pan 180 Bronx NY Daily Average TCHCHO', transform=ax1.transAxes,
         fontsize=17, fontweight='bold', va='center', ha='left', zorder=5)
for xx, s in zip([0.056, 0.218, 0.425], ['40.868', '-73.878', '0.003']):
    ax1.text(xx, 0.878, s, transform=ax1.transAxes, fontsize=17, fontweight='bold',
             va='center', ha='left', zorder=5)

dotted_circles(ax2, no2_t, no2_v)
style_axes(ax2, -0.25, 3.2, 0.5, 0.25)
ax2.set_ylabel('NO$_2$ (DU)', fontsize=20, fontweight='bold', labelpad=3)
ax2.add_patch(Rectangle((0.078, 0.851), 0.849, 0.142, transform=ax2.transAxes,
                        facecolor='white', edgecolor='#2020ff', linewidth=1.0, zorder=4))
ax2.text(0.091, 0.959, 'Pan 180 Bronx NY Daily Average TCNO$_\\mathbf{2}$', transform=ax2.transAxes,
         fontsize=17, fontweight='bold', va='center', ha='left', zorder=5)
for xx, s in zip([0.091, 0.25, 0.46], ['40.868', '-73.878', '0.003']):
    ax2.text(xx, 0.876, s, transform=ax2.transAxes, fontsize=17, fontweight='bold',
             va='center', ha='left', zorder=5)

fig.savefig('out.png', dpi=100)
